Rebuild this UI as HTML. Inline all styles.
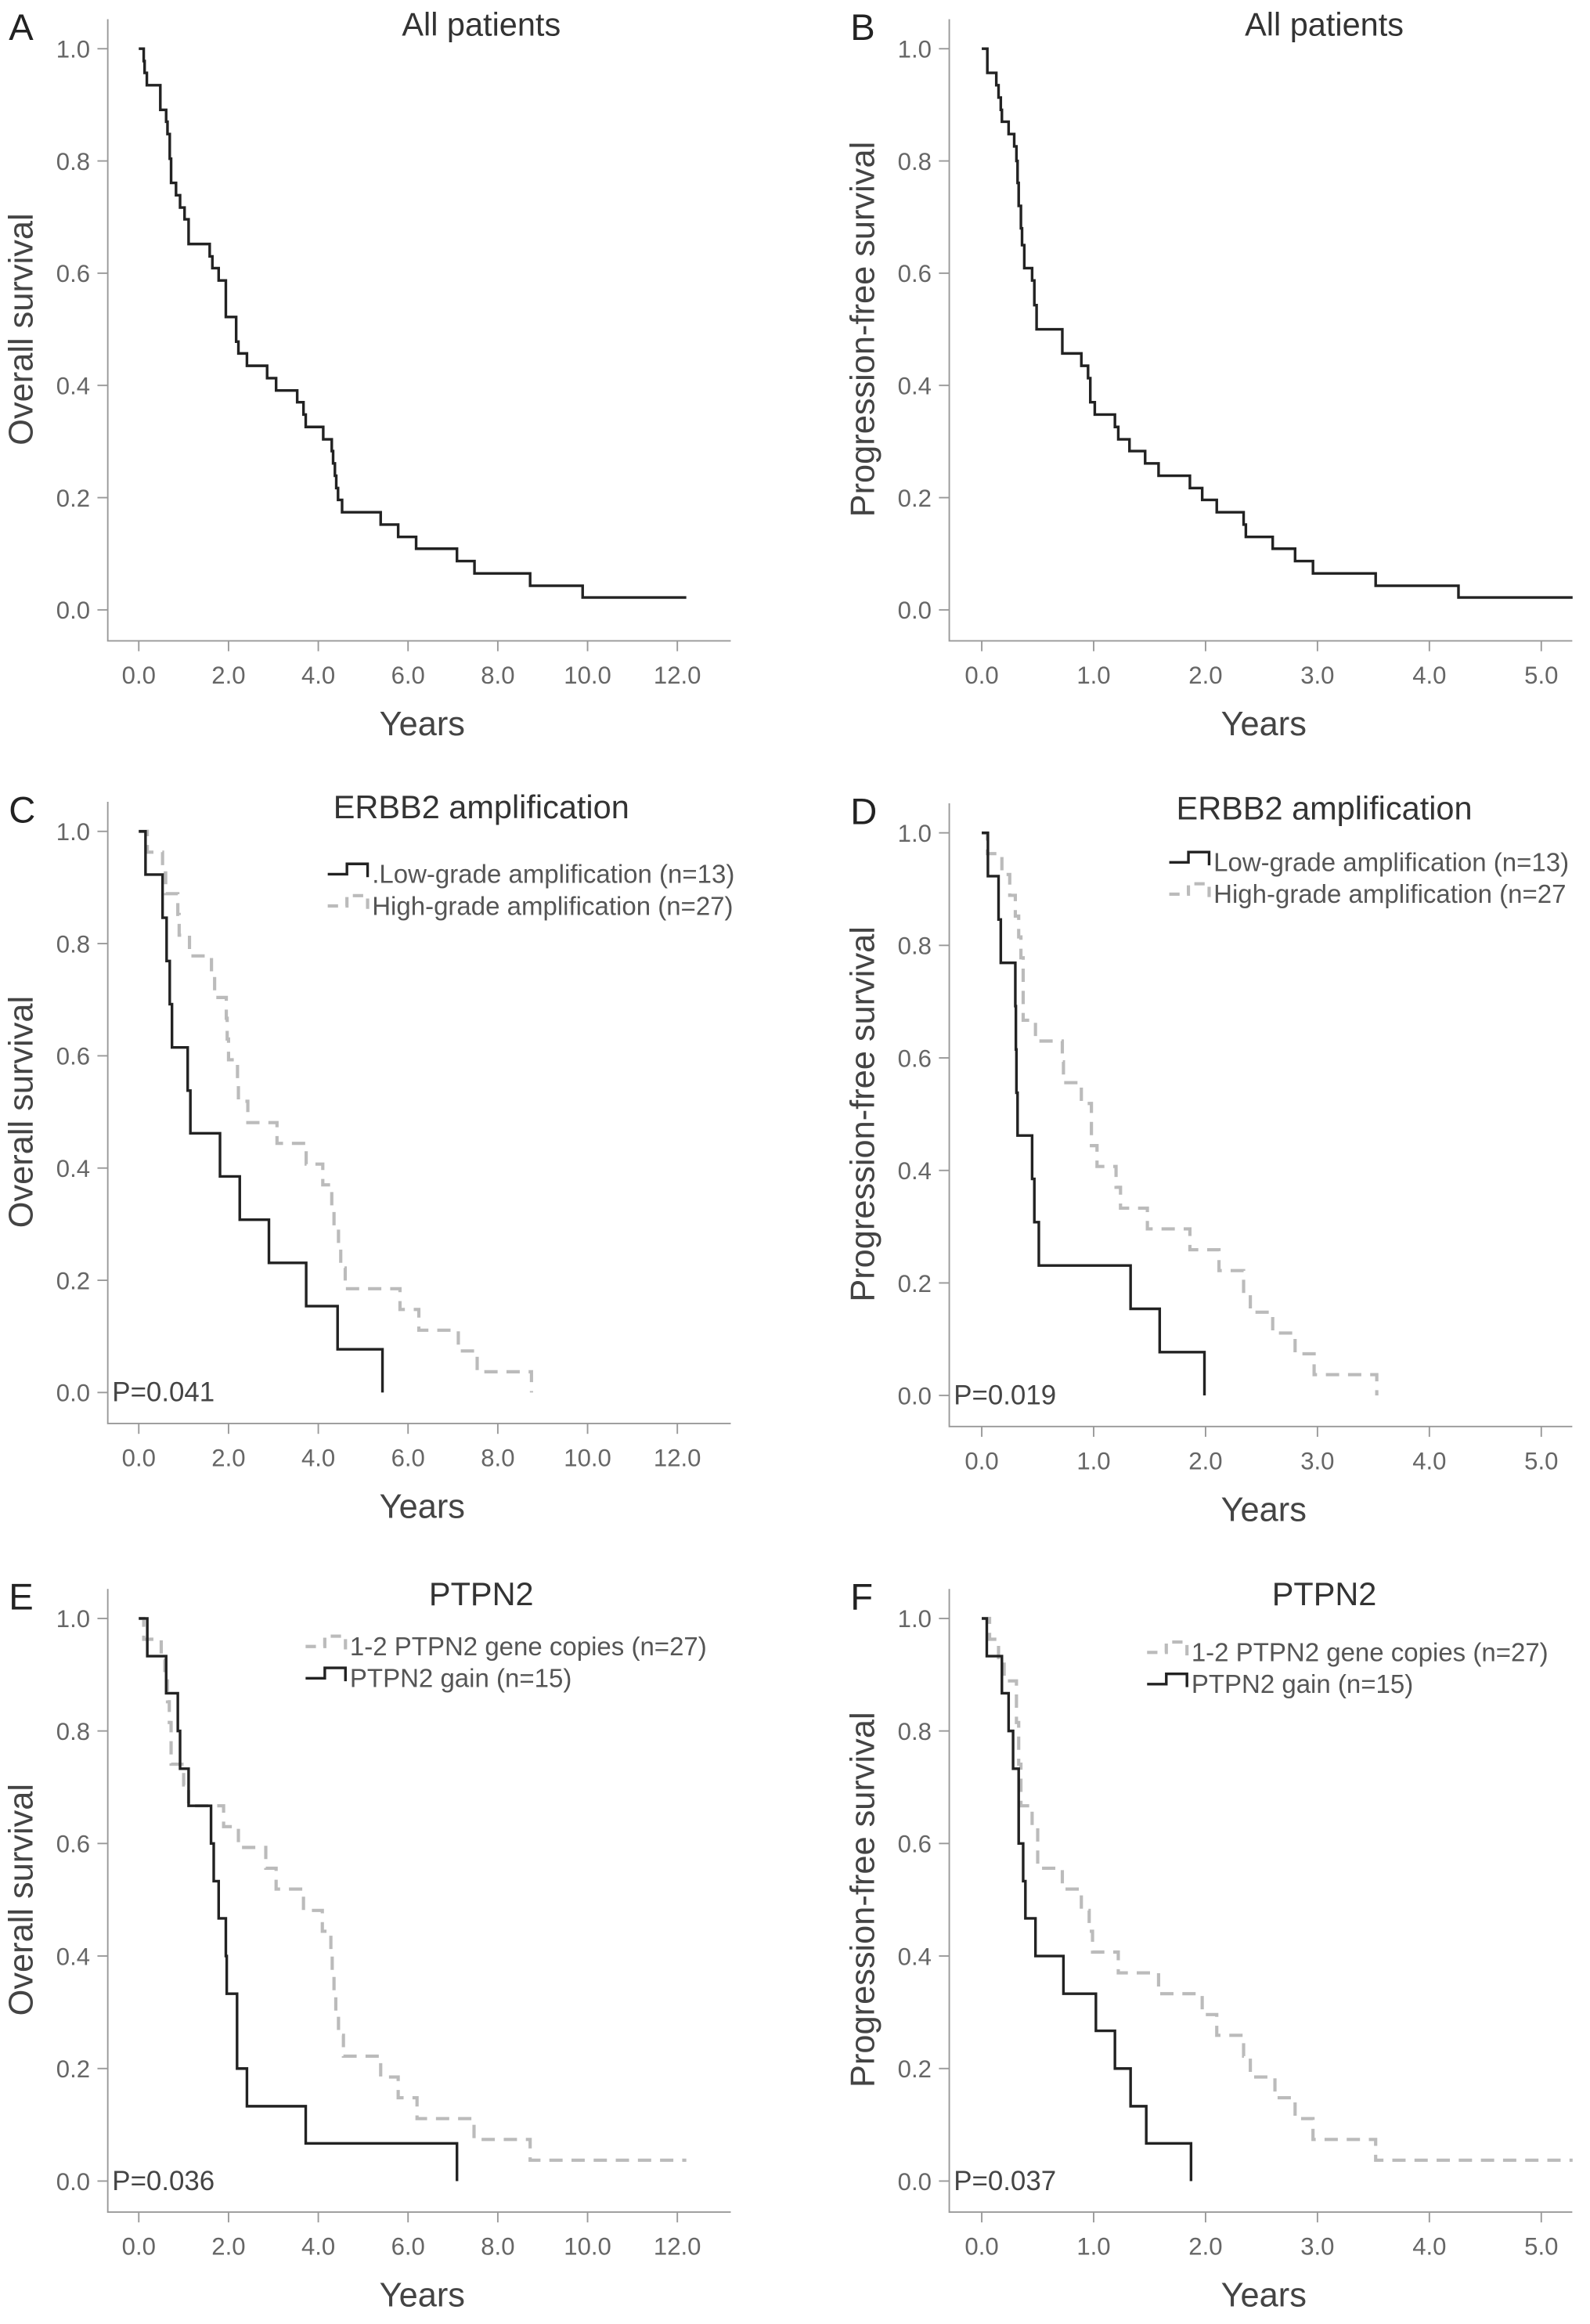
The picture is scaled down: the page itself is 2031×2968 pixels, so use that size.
<!DOCTYPE html>
<html><head><meta charset="utf-8"><style>
html,body{margin:0;padding:0;background:#fff}
svg{display:block}
text{font-family:"Liberation Sans",sans-serif}
</style></head><body>
<svg id="fig" width="2031" height="2968" viewBox="0 0 1077 1573.8" preserveAspectRatio="none" xmlns="http://www.w3.org/2000/svg"></svg>
<script>
// ---- data (years, survival after event) ----
const aT=[0.11,0.13,0.18,0.48,0.61,0.64,0.69,0.72,0.83,0.92,1.02,1.11,1.58,1.64,1.78,1.94,2.17,2.22,2.41,2.86,3.06,3.53,3.67,3.72,4.11,4.30,4.33,4.37,4.40,4.44,4.53,5.39,5.78,6.18,7.09,7.48,8.72,9.89];
const aS=[0.978,0.957,0.935,0.891,0.870,0.848,0.804,0.761,0.739,0.717,0.696,0.652,0.630,0.609,0.587,0.522,0.478,0.457,0.435,0.413,0.391,0.370,0.348,0.326,0.304,0.283,0.261,0.239,0.217,0.196,0.174,0.152,0.130,0.109,0.087,0.065,0.043,0.022];
const aEnd=12.2;
const bT=[0.05,0.13,0.15,0.17,0.18,0.24,0.29,0.31,0.32,0.33,0.35,0.36,0.38,0.45,0.47,0.49,0.72,0.89,0.95,0.97,1.01,1.19,1.22,1.32,1.46,1.58,1.86,1.97,2.10,2.34,2.36,2.60,2.80,2.96,3.52,4.26];
const bS=[0.957,0.935,0.913,0.891,0.870,0.848,0.826,0.800,0.761,0.720,0.680,0.650,0.609,0.587,0.543,0.500,0.457,0.435,0.413,0.370,0.348,0.326,0.304,0.283,0.261,0.239,0.217,0.196,0.174,0.152,0.130,0.109,0.087,0.065,0.043,0.022];
const bEnd=5.28;
const cLowT=[0.15,0.53,0.62,0.69,0.74,1.09,1.15,1.81,2.25,2.90,3.73,4.43,5.43];
const cLowS=[0.923,0.846,0.769,0.692,0.615,0.538,0.462,0.385,0.308,0.231,0.154,0.077,0];
const cHighT=[0.19,0.53,0.60,0.87,0.90,1.13,1.62,1.69,1.95,1.97,2.00,2.20,2.22,2.43,3.08,3.73,4.10,4.30,4.35,4.45,4.50,4.60,5.82,6.24,7.12,7.54,8.75];
const cHighS=[0.963,0.926,0.889,0.852,0.815,0.778,0.741,0.704,0.667,0.630,0.593,0.556,0.519,0.481,0.444,0.407,0.370,0.333,0.296,0.259,0.222,0.185,0.148,0.111,0.074,0.037,0];
const dLowT=[0.055,0.15,0.17,0.30,0.305,0.31,0.32,0.45,0.47,0.51,1.33,1.59,1.99];
const dLowS=[0.923,0.846,0.769,0.692,0.615,0.538,0.462,0.385,0.308,0.231,0.154,0.077,0];
const dHighT=[0.05,0.18,0.25,0.30,0.33,0.35,0.37,0.48,0.72,0.73,0.89,0.98,1.03,1.20,1.24,1.48,1.86,2.12,2.34,2.40,2.60,2.80,2.97,3.53];
const dHighS=[0.963,0.926,0.889,0.852,0.815,0.778,0.667,0.630,0.593,0.556,0.519,0.444,0.407,0.370,0.333,0.296,0.259,0.222,0.185,0.148,0.111,0.074,0.037,0];
const eGainT=[0.19,0.61,0.87,0.92,1.11,1.61,1.67,1.78,1.94,1.96,2.19,2.41,3.72,7.09];
const eGainS=[0.933,0.867,0.800,0.733,0.667,0.600,0.533,0.467,0.400,0.333,0.200,0.133,0.067,0];
const eCopyT=[0.11,0.50,0.58,0.64,0.68,0.72,1.00,1.11,1.89,2.22,2.83,3.06,3.67,4.09,4.28,4.31,4.35,4.39,4.45,4.56,5.39,5.78,6.20,7.47,8.72];
const eCopyS=[0.963,0.926,0.889,0.852,0.815,0.741,0.704,0.667,0.630,0.593,0.556,0.519,0.481,0.444,0.407,0.370,0.333,0.296,0.259,0.222,0.185,0.148,0.111,0.074,0.037];
const eCopyEnd=12.2;
const fGainT=[0.045,0.18,0.24,0.28,0.33,0.37,0.39,0.48,0.73,1.02,1.19,1.33,1.47,1.87];
const fGainS=[0.933,0.867,0.800,0.733,0.600,0.533,0.467,0.400,0.333,0.267,0.200,0.133,0.067,0];
const fCopyT=[0.07,0.15,0.20,0.31,0.33,0.35,0.45,0.50,0.72,0.89,0.96,0.99,1.22,1.58,1.97,2.10,2.34,2.40,2.62,2.80,2.96,3.52];
const fCopyS=[0.963,0.926,0.889,0.815,0.741,0.667,0.630,0.556,0.519,0.481,0.444,0.407,0.370,0.333,0.296,0.259,0.222,0.185,0.148,0.111,0.074,0.037];
const fCopyEnd=5.28;
const osTicks=["0.0","2.0","4.0","6.0","8.0","10.0","12.0"];
const pfsTicks=["0.0","1.0","2.0","3.0","4.0","5.0"];
const yTicks=["0.0","0.2","0.4","0.6","0.8","1.0"];

const svg=document.getElementById('fig');
const NS='http://www.w3.org/2000/svg';
function el(tag,attrs,parent){const e=document.createElementNS(NS,tag);for(const k in attrs)e.setAttribute(k,attrs[k]);(parent||svg).appendChild(e);return e;}
function txt(s,attrs,parent){const e=el('text',attrs,parent);e.textContent=s;return e;}

function panel(p){
  const g=el('g',{});
  
  
  const X=v=>p.x0+v*p.ppy, Y=s=>p.y0-(p.y0-p.y1)*s;
  const ax=el('path',{d:`M${p.ax} ${p.y1-20} V${p.y0+21} H${p.right}`,stroke:'#999',fill:'none','stroke-width':1},g);
  
  
  yTicks.forEach((t,i)=>{const yy=Y(i*0.2);
    el('line',{x1:p.ax-7,x2:p.ax,y1:yy,y2:yy,stroke:'#999'},g);
    const l=txt(t,{x:p.ax-12,y:yy+6,'text-anchor':'end','font-size':16.5,fill:'#666'},g);
    
    });
  p.xt.forEach((t,i)=>{const xx=X(i*p.step);
    el('line',{x1:xx,x2:xx,y1:p.y0+21,y2:p.y0+28,stroke:'#999'},g);
    const l=txt(t,{x:xx,y:p.y0+50,'text-anchor':'middle','font-size':16.5,fill:'#666'},g);
    
    });
  const xt=txt('Years',{x:(p.ax+p.right)/2+2,y:p.y0+85,'text-anchor':'middle','font-size':23,fill:'#444'},g);
  
  
  const cy=(p.y0+p.y1)/2;
  const yt=txt(p.ytitle,{x:p.ax-51,y:cy,'text-anchor':'middle','font-size':23,fill:'#444',transform:`rotate(-90 ${p.ax-51} ${cy})`},g);
  
  
  const tt=txt(p.title,{x:p.tx,y:p.y1-9,'text-anchor':'middle','font-size':22,fill:'#333'},g);
  
  
  const lt=txt(p.letter,{x:p.ax-67,y:p.y1-6,'font-size':25,fill:'#222'},g);
  
  
  p.series.forEach(s=>{
    let d=`M${X(0)} ${Y(1)}`;
    s.t.forEach((t,i)=>{d+=` H${X(t)} V${Y(s.s[i])}`;});
    if(s.end!==undefined)d+=` H${X(s.end)}`;
    const path=el('path',{d,fill:'none',stroke:s.grey?'#bbb':'#222','stroke-width':s.grey?2.2:1.8,'stroke-dasharray':s.grey?'9 6':'none'},g);
    
    
  });
  if(p.legend){p.legend.forEach((L,i)=>{
    const yy=p.legend.y+i*21.5;
    const lx=p.legend.x;
    const ic=el('path',{d:`M${lx} ${yy} H${lx+13} V${yy-7} H${lx+27} V${yy+2}`,fill:'none',stroke:L.grey?'#bbb':'#222','stroke-width':L.grey?2.2:1.8,'stroke-dasharray':L.grey?'7 5':'none'},g);
    
    
    const lt2=txt(L.label,{x:lx+30,y:yy+6,'font-size':17.5,fill:'#555'},g);
    
    
  });}
  if(p.pval){const pv=txt(p.pval,{x:p.ax+3,y:p.y0+6,'font-size':18.5,fill:'#444'},g);
    
    }
}
const L=(x,y,items)=>{items.x=x;items.y=y;return items;};
const OS={ax:73,x0:94,ppy:30.4,right:495,xt:osTicks,step:2,ytitle:'Overall survival',tx:326};
const PF={ax:643,x0:665,ppy:75.8,right:1065,xt:pfsTicks,step:1,ytitle:'Progression-free survival',tx:897};
panel(Object.assign({},OS,{letter:'A',title:'All patients',y1:33,y0:413,series:[{name:'os-curve-all',t:aT,s:aS,end:aEnd}]}));
panel(Object.assign({},PF,{letter:'B',title:'All patients',y1:33,y0:413,series:[{name:'pfs-curve-all',t:bT,s:bS,end:bEnd}]}));
panel(Object.assign({},OS,{letter:'C',title:'ERBB2 amplification',y1:563,y0:943,pval:'P=0.041',
  series:[{name:'os-high-grade',t:cHighT,s:cHighS,grey:true},{name:'os-low-grade',t:cLowT,s:cLowS}],
  legend:L(222,592,[{label:'.Low-grade amplification (n=13)'},{label:'High-grade amplification (n=27)',grey:true}])}));
panel(Object.assign({},PF,{letter:'D',title:'ERBB2 amplification',y1:564,y0:945,pval:'P=0.019',
  series:[{name:'pfs-high-grade',t:dHighT,s:dHighS,grey:true},{name:'pfs-low-grade',t:dLowT,s:dLowS}],
  legend:L(792,584,[{label:'Low-grade amplification (n=13)'},{label:'High-grade amplification (n=27',grey:true}])}));
panel(Object.assign({},OS,{letter:'E',title:'PTPN2',y1:1096,y0:1477,pval:'P=0.036',
  series:[{name:'os-1-2-copies',t:eCopyT,s:eCopyS,end:eCopyEnd,grey:true},{name:'os-ptpn2-gain',t:eGainT,s:eGainS}],
  legend:L(207,1115,[{label:'1-2 PTPN2 gene copies (n=27)',grey:true},{label:'PTPN2 gain (n=15)'}])}));
panel(Object.assign({},PF,{letter:'F',title:'PTPN2',y1:1096,y0:1477,pval:'P=0.037',
  series:[{name:'pfs-1-2-copies',t:fCopyT,s:fCopyS,end:fCopyEnd,grey:true},{name:'pfs-ptpn2-gain',t:fGainT,s:fGainS}],
  legend:L(777,1119,[{label:'1-2 PTPN2 gene copies (n=27)',grey:true},{label:'PTPN2 gain (n=15)'}])}));
</script>
</body></html>
